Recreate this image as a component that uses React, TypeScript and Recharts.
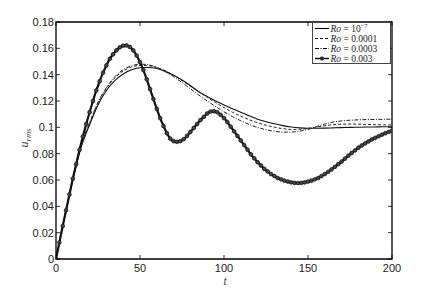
import React from 'react';
import { LineChart, Line, XAxis, YAxis, ReferenceArea, Label } from 'recharts';

// ---- data ----
const T5 = [0, 5, 10, 15, 20, 25, 30, 35, 40, 45, 50, 55, 60, 65, 70, 75, 80, 85, 90, 95, 100,
  105, 110, 115, 120, 125, 130, 135, 140, 145, 150, 155, 160, 165, 170, 175, 180, 185, 190, 195, 200];

const RO_1E7 = [0, 0.031, 0.06, 0.085, 0.102, 0.117, 0.128, 0.1355, 0.1405, 0.1438, 0.1452, 0.1455,
  0.1447, 0.1425, 0.1395, 0.136, 0.1318, 0.127, 0.1235, 0.12, 0.117, 0.1142, 0.1114, 0.1088, 0.1062,
  0.1043, 0.1027, 0.1013, 0.1003, 0.0996, 0.0993, 0.0993, 0.0994, 0.0996, 0.0998, 0.1, 0.1001,
  0.1002, 0.1003, 0.1004, 0.1005];

const RO_1E4 = [0, 0.031, 0.061, 0.086, 0.103, 0.1185, 0.1295, 0.1375, 0.1428, 0.1458, 0.147, 0.1468,
  0.1455, 0.143, 0.1395, 0.1355, 0.1312, 0.127, 0.1228, 0.1188, 0.115, 0.1115, 0.1085, 0.1058, 0.1035,
  0.1016, 0.1001, 0.099, 0.0984, 0.0985, 0.0992, 0.1002, 0.1012, 0.102, 0.1024, 0.1025, 0.1024,
  0.1022, 0.102, 0.1019, 0.1018];

const RO_3E4 = [0, 0.031, 0.061, 0.0865, 0.1035, 0.119, 0.1302, 0.1385, 0.1438, 0.1468, 0.148, 0.1475,
  0.1455, 0.1425, 0.1385, 0.134, 0.1293, 0.1245, 0.12, 0.1158, 0.1118, 0.1082, 0.105, 0.1022, 0.0999,
  0.0982, 0.097, 0.0964, 0.0964, 0.0971, 0.0985, 0.1005, 0.1025, 0.104, 0.1049, 0.1054, 0.1057,
  0.1059, 0.106, 0.1061, 0.1062];

const T2 = [0, 2, 4, 6, 8, 10, 12, 14, 16, 18, 20, 22, 24, 26, 28, 30, 32, 34, 36, 38, 40, 42, 44, 46,
  48, 50, 52, 54, 56, 58, 60, 62, 64, 66, 68, 70, 72, 74, 76, 78, 80, 82, 84, 86, 88, 90, 92, 94, 96,
  98, 100, 102, 104, 106, 108, 110, 112, 114, 116, 118, 120, 122, 124, 126, 128, 130, 132, 134, 136,
  138, 140, 142, 144, 146, 148, 150, 152, 154, 156, 158, 160, 162, 164, 166, 168, 170, 172, 174, 176,
  178, 180, 182, 184, 186, 188, 190, 192, 194, 196, 198, 200];

const RO_3E3 = [0, 0.0125, 0.025, 0.037, 0.049, 0.061, 0.072, 0.083, 0.093, 0.1025, 0.1115, 0.12, 0.128,
  0.135, 0.1415, 0.147, 0.152, 0.1555, 0.1585, 0.1608, 0.162, 0.1622, 0.161, 0.1585, 0.1545, 0.1495,
  0.1435, 0.1365, 0.129, 0.1215, 0.114, 0.107, 0.101, 0.0955, 0.0915, 0.0895, 0.089, 0.0895, 0.091,
  0.0935, 0.0965, 0.0995, 0.1025, 0.1055, 0.108, 0.1105, 0.112, 0.1122, 0.1115, 0.1095, 0.107, 0.104,
  0.1005, 0.097, 0.0935, 0.09, 0.0865, 0.083, 0.0795, 0.0765, 0.0735, 0.071, 0.0685, 0.0665, 0.0645,
  0.063, 0.0615, 0.0605, 0.0595, 0.0588, 0.0582, 0.0578, 0.0577, 0.0578, 0.0582, 0.0588, 0.0595,
  0.0605, 0.0615, 0.063, 0.0645, 0.0662, 0.068, 0.07, 0.072, 0.074, 0.0762, 0.0785, 0.0805, 0.0825,
  0.0845, 0.0862, 0.0878, 0.0893, 0.0908, 0.092, 0.0932, 0.0944, 0.0955, 0.0965, 0.0975];

const X_TICKS = [0, 50, 100, 150, 200];
const Y_TICKS = [0, 0.02, 0.04, 0.06, 0.08, 0.1, 0.12, 0.14, 0.16, 0.18];
const LEGEND_LABELS = ['0.0001', '0.0003', '0.003'];

const dataA = T5.map((t, i) => ({ t, v: RO_1E7[i] }));
const dataB = T5.map((t, i) => ({ t, v: RO_1E4[i] }));
const dataC = T5.map((t, i) => ({ t, v: RO_3E4[i] }));
const dataD = T2.map((t, i) => ({ t, v: RO_3E3[i] }));

// ---- layout ----
const W = 425;
const H = 285;
const M = { top: 14, right: 41, bottom: 0, left: 0 };
const Y_W = 48;
const X_H = 34;
const PL = M.left + Y_W;
const PR = W - M.right;
const PT = M.top;
const PB = H - M.bottom - X_H;
const TICK = 4;
const FONT = '"Liberation Sans", Arial, sans-serif';
const SERIF = '"Liberation Serif", "Times New Roman", serif';

const XTick = (props: any) => {
  const { x, payload } = props;
  return (
    <g>
      <line x1={x} x2={x} y1={PB} y2={PB - TICK} stroke="#000" strokeWidth={0.8} />
      <line x1={x} x2={x} y1={PT} y2={PT + TICK} stroke="#000" strokeWidth={0.8} />
      <text x={x} y={PB + 13} textAnchor="middle" fontFamily={FONT} fontSize={11} fill="#222">
        {String(payload.value)}
      </text>
    </g>
  );
};

const YTick = (props: any) => {
  const { y, payload } = props;
  return (
    <g>
      <line x1={PL} x2={PL + TICK} y1={y} y2={y} stroke="#000" strokeWidth={0.8} />
      <line x1={PR} x2={PR - TICK} y1={y} y2={y} stroke="#000" strokeWidth={0.8} />
      <text x={PL - 2} y={y + 4} textAnchor="end" fontFamily={FONT} fontSize={11} fill="#222">
        {String(payload.value)}
      </text>
    </g>
  );
};

const LegendBox = () => {
  const rowY = [6.5, 16.5, 26.5, 36.5];
  const lbl = [null, ...LEGEND_LABELS];
  return (
    <svg width={79} height={42} style={{ position: 'absolute', left: 304, top: 14, overflow: 'visible' }}>
      <rect x={0.5} y={0.5} width={78} height={41} fill="#fff" stroke="#444" strokeWidth={1} />
      <line x1={3} x2={17} y1={rowY[0]} y2={rowY[0]} stroke="#000" strokeWidth={1.1} />
      <line x1={3} x2={17} y1={rowY[1]} y2={rowY[1]} stroke="#000" strokeWidth={1} strokeDasharray="3 2" />
      <line x1={3} x2={17} y1={rowY[2]} y2={rowY[2]} stroke="#000" strokeWidth={1} strokeDasharray="4 1.5 1 1.5" />
      <line x1={3} x2={17} y1={rowY[3]} y2={rowY[3]} stroke="#000" strokeWidth={1.4} />
      <circle cx={10} cy={rowY[3]} r={1.8} fill="#333" stroke="#111" strokeWidth={0.6} />
      {rowY.map((ry, i) => (
        <text key={i} x={18.5} y={ry + 3} fontFamily={SERIF} fontSize={9.5} fill="#222">
          <tspan fontStyle="italic">Ro</tspan>
          <tspan> = {i === 0 ? '10' : lbl[i]}</tspan>
          {i === 0 ? <tspan fontSize={6.5} dy={-3.5}>−7</tspan> : null}
        </text>
      ))}
    </svg>
  );
};

const YLabel = (props: any) => {
  const cx = 20;
  const cy = 130;
  return (
    <text transform={`translate(${cx},${cy}) rotate(-90)`} textAnchor="middle" fontFamily={SERIF} fontSize={12} fill="#444" fontStyle="italic">
      <tspan>u</tspan>
      <tspan fontSize={8.5} dy={2.5}>rms</tspan>
    </text>
  );
};

const XLabel = (props: any) => (
  <text x={217} y={277} textAnchor="middle" fontFamily={SERIF} fontSize={11.5} fill="#444" fontStyle="italic">
    t
  </text>
);

export default function App() {
  return (
    <div style={{ position: 'relative', width: W, height: H }}>
      <LineChart width={W} height={H} margin={M}>
        <XAxis
          dataKey="t"
          type="number"
          domain={[0, 200]}
          ticks={X_TICKS}
          height={X_H}
          axisLine={false}
          tickLine={false}
          tick={<XTick />}
          interval={0}
          allowDataOverflow
        >
          <Label content={<XLabel />} />
        </XAxis>
        <YAxis
          type="number"
          domain={[0, 0.18]}
          ticks={Y_TICKS}
          width={Y_W}
          axisLine={false}
          tickLine={false}
          tick={<YTick />}
          interval={0}
          allowDataOverflow
        >
          <Label content={<YLabel />} />
        </YAxis>
        <Line data={dataA} dataKey="v" stroke="#111" strokeWidth={1.1} dot={false} type="monotone" isAnimationActive={false} />
        <Line data={dataB} dataKey="v" stroke="#222" strokeWidth={1} strokeDasharray="3 2" dot={false} type="monotone" isAnimationActive={false} />
        <Line data={dataC} dataKey="v" stroke="#222" strokeWidth={1} strokeDasharray="4 1.5 1 1.5" dot={false} type="monotone" isAnimationActive={false} />
        <Line
          data={dataD}
          dataKey="v"
          stroke="#111"
          strokeWidth={2.2}
          dot={{ r: 1.9, fill: '#444', stroke: '#111', strokeWidth: 0.7 }}
          type="monotone"
          isAnimationActive={false}
        />
        <ReferenceArea x1={0} x2={200} y1={0} y2={0.18} fill="none" stroke="#000" strokeWidth={1.3} ifOverflow="visible" />
      </LineChart>
      <LegendBox />
    </div>
  );
}
